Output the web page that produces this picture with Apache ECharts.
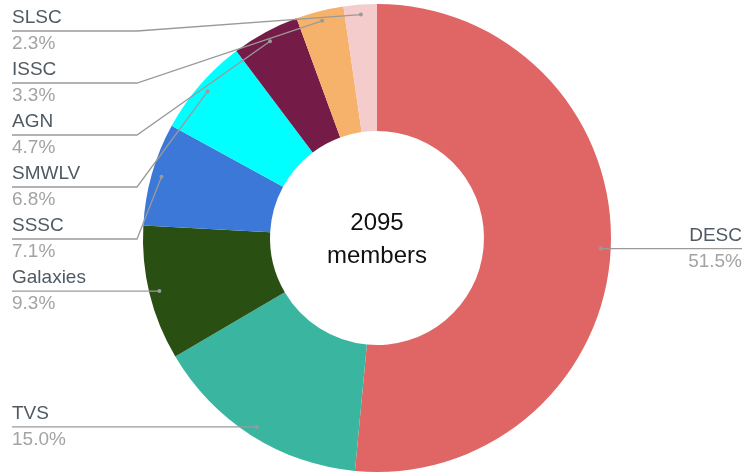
<!DOCTYPE html>
<html>
<head>
<meta charset="utf-8">
<title>Members by group</title>
<style>
  html, body { margin: 0; padding: 0; background: #fff; }
  #main { width: 745px; height: 476px; }
</style>
</head>
<body>
<div id="main"></div>
<script src="https://cdn.jsdelivr.net/npm/echarts@6/dist/echarts.min.js"></script>
<script>
  var groups = ['DESC', 'TVS', 'Galaxies', 'SSSC', 'SMWLV', 'AGN', 'ISSC', 'SLSC'];
  var members = [1079, 315, 195, 149, 142, 98, 69, 48];
  var colors = ['#e06666', '#3ab6a0', '#2a4f13', '#3c78d8', '#00ffff', '#741b47', '#f6b26b', '#f4cccc'];
  var total = 2095;

  // pie geometry (absolute px)
  var cx = 377, cy = 238, rIn = 107, rOut = 234;
  var rDot = 224;          // where the leader lines start, inside the ring
  var lineH = 26;          // one text line; a label is two of these
  var edgeL = 12, edgeR = 742;

  var font = '"Liberation Sans", Arial, sans-serif';
  var chart = echarts.init(document.getElementById('main'));

  // leader start points and stacked label rows, google-sheets style
  var anchors = [];
  var acc = 0;
  members.forEach(function (v, i) {
    var a = (acc + v / 2) / total * Math.PI * 2;
    acc += v;
    anchors.push({
      i: i,
      left: Math.sin(a) < 0,
      x: cx + rDot * Math.sin(a),
      y: cy - rDot * Math.cos(a)
    });
  });
  [true, false].forEach(function (side) {
    var list = anchors.filter(function (p) { return p.left === side; })
      .sort(function (a, b) { return a.y - b.y; });
    var prev = 5 + lineH - 2 * lineH;
    list.forEach(function (p) {
      p.rowY = Math.max(p.y, prev + 2 * lineH);
      prev = p.rowY;
    });
  });

  var data = groups.map(function (g, i) {
    return { name: g, value: members[i], itemStyle: { color: colors[i] } };
  });

  // leader lines + dots, drawn on top of the ring
  var leaders = [];
  anchors.forEach(function (p) {
    var endX = p.left ? edgeL : edgeR;
    var pts = [[p.x, p.y]];
    if (Math.abs(p.rowY - p.y) > 1) {
      pts.push([p.left ? cx - rOut - 6 : cx + rOut + 6, p.rowY]);
    }
    pts.push([endX, p.rowY]);
    leaders.push({
      type: 'polyline',
      z: 100,
      shape: { points: pts },
      style: { stroke: '#9a9a9a', lineWidth: 1.3, fill: null }
    });
    leaders.push({
      type: 'circle',
      z: 101,
      shape: { cx: p.x, cy: p.y, r: 2 },
      style: { fill: '#9a9a9a' }
    });
  });

  var option = {
    animation: false,
    graphic: [{
      type: 'text',
      x: cx,
      y: 240,
      style: {
        text: total + '\nmembers',
        align: 'center',
        verticalAlign: 'middle',
        fill: '#111',
        font: '24px ' + font,
        lineHeight: 33
      }
    }].concat(leaders),
    series: [{
      type: 'pie',
      center: [cx, cy],
      radius: [rIn, rOut],
      startAngle: 90,
      clockwise: true,
      avoidLabelOverlap: false,
      data: data,
      emphasis: { disabled: true },
      label: {
        fontFamily: font,
        fontSize: 19,
        lineHeight: lineH,
        formatter: function (p) {
          return '{name|' + p.name + '}\n{pct|' + p.percent.toFixed(1) + '%}';
        },
        rich: {
          name: { fontSize: 19, lineHeight: lineH, color: '#4f5a63', fontFamily: font },
          pct: { fontSize: 19, lineHeight: lineH, color: '#a3a3a3', fontFamily: font }
        }
      },
      labelLine: { show: false },
      labelLayout: function (params) {
        var p = anchors[params.dataIndex];
        return {
          x: p.left ? edgeL : edgeR,
          y: p.rowY,
          align: p.left ? 'left' : 'right',
          verticalAlign: 'middle'
        };
      }
    }]
  };

  chart.setOption(option);
</script>
</body>
</html>
